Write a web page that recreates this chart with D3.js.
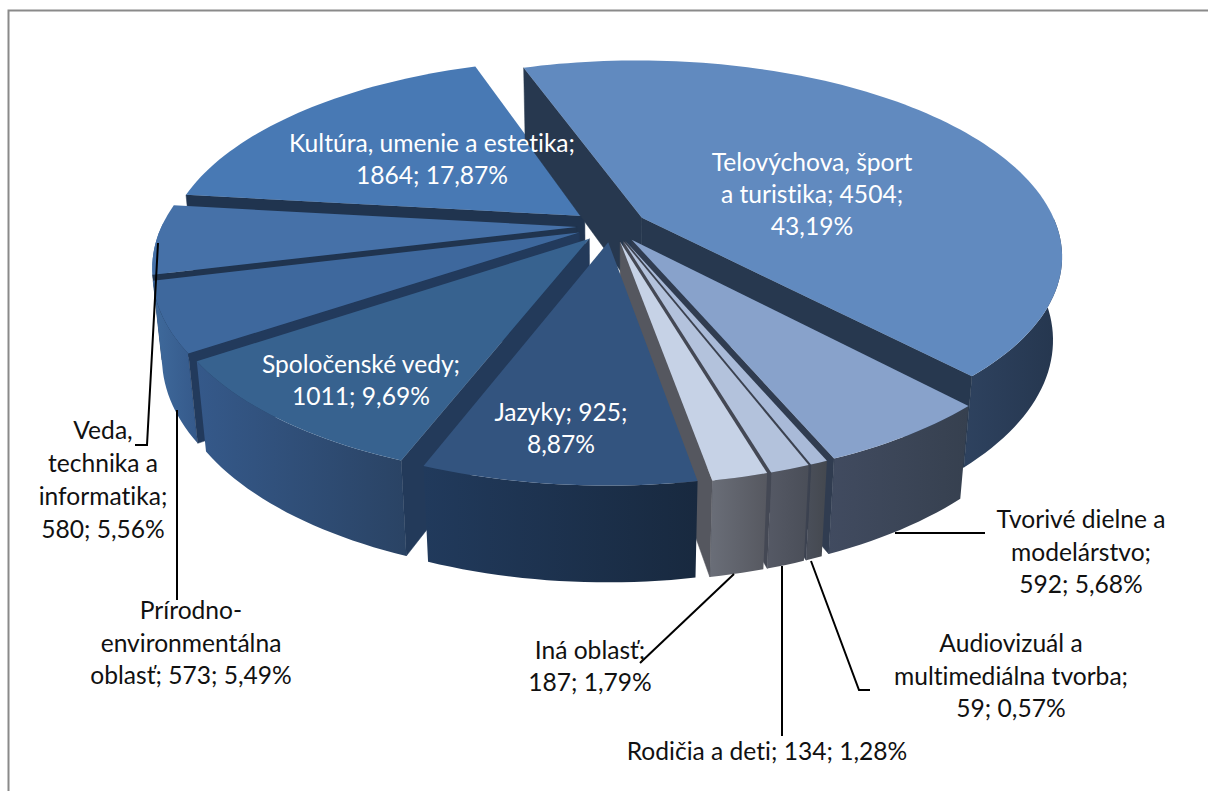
<!DOCTYPE html>
<html><head><meta charset="utf-8">
<script src="https://cdn.jsdelivr.net/npm/d3@7/dist/d3.min.js"></script>
<style>html,body{margin:0;background:#fff}svg{display:block}text{font-family:Lato,"Open Sans",sans-serif;font-size:24.6px;font-variant-ligatures:none}</style>
</head><body><svg id="c" width="1208" height="791"></svg>
<script>
const categories=["Telovýchova, šport a turistika","Tvorivé dielne a modelárstvo","Audiovizuál a multimediálna tvorba","Rodičia a deti","Iná oblasť","Jazyky","Spoločenské vedy","Prírodno-environmentálna oblasť","Veda, technika a informatika","Kultúra, umenie a estetika"];
const values=[4504,592,59,134,187,925,1011,573,580,1864];
const labelLines=[["Telovýchova, šport","a turistika; 4504;","43,19%"],["Tvorivé dielne a","modelárstvo;","592; 5,68%"],["Audiovizuál a","multimediálna tvorba;","59; 0,57%"],["Rodičia a deti; 134; 1,28%"],["Iná oblasť;","187; 1,79%"],["Jazyky; 925;","8,87%"],["Spoločenské vedy;","1011; 9,69%"],["Prírodno-","environmentálna","oblasť; 573; 5,49%"],["Veda,","technika a","informatika;","580; 5,56%"],["Kultúra, umenie a estetika;","1864; 17,87%"]];
const topColors=["#618abf","#88a2cb","#a9bad8","#b3c2dc","#c6d2e6","#33547f","#37628f","#3e689d","#4671a8","#4879b4"];
const wallLeft=["#2e425f","#414b60","#4a4f5a","#555965","#6a6e78","#213a5c","#35598a","#3f6a9c","#3d689c","#2f4f78"];
const wallRight=["#25364e","#36404f","#44484f","#4a4e58","#565860","#18293f","#2a4364","#35598a","#3d689c","#2f4f78"];
const faceColors=["#27384f","#303c50","#3c4250","#444854","#55575f","#2a4a70","#233a5a","#223a5c","#20344f","#20344f"];
const labelPos=[[812,163],[1081,520],[1011,644],[767,752],[590,651],[561,413],[361,365],[191,611],[103,431],[432,144]];
const lineGap=[32,32.5,32.5,32,32,32,32,32.5,33,32];
const labelFill=["#fff","#111","#111","#111","#111","#fff","#fff","#111","#111","#fff"];
const leaders=[[[158,243],[147,445],[135,445]],[[177,410],[177,600]],[[734,574],[640,663]],[[782,566],[782,736]],[[811,561],[859,690],[870,690]],[[895,533],[985,533]]];

const cx=612,cy=226,F=415,A=190,S=0.19,H=84,KZ=0.02,EX=0.085;
const deg=Math.PI/180;
const svg=d3.select("#c"), defs=svg.append("defs");
svg.append("path").attr("d","M8.5,791V10.5H1208").attr("fill","none").attr("stroke","#8a8a8a").attr("stroke-width",2);
const pie=d3.pie().sort(null).startAngle(-19*deg).endAngle(341*deg);
const arcs=pie(values).map((d,i)=>({...d,i,mid:(d.startAngle+d.endAngle)/2}));
// Excel's 3D view squeezes the front quadrants slightly
function warp(a){const q=a/deg;
  if(q>170&&q<270) return a-1.2*deg*Math.sin((q-170)/100*Math.PI);
  if(q>90&&q<170) return a+0.6*deg*Math.sin((q-90)/80*Math.PI);
  return a;}
function proj(d,a0,r,z){
  const a=warp(a0);
  const X=EX*Math.sin(d.mid)+r*Math.sin(a), V=-EX*Math.cos(d.mid)-r*Math.cos(a);
  const w=1-S*V+KZ*z;
  return [cx+F*X/w, cy+A*V/w+H*z/w];
}
const line=d3.line();
const order=arcs.slice().sort((p,q)=>(-Math.cos(p.mid))-(-Math.cos(q.mid)));
const angles=d=>{const n=Math.max(2,Math.ceil((d.endAngle-d.startAngle)/(1.5*deg)));return d3.range(n+1).map(k=>d.startAngle+(d.endAngle-d.startAngle)*k/n);};
order.forEach(d=>{
  const g=svg.append("g");
  const as=angles(d), front=as.filter(a=>-Math.cos(a)>-0.02);
  if(front.length>1){
    const pts=front.map(a=>proj(d,a,1,0)).concat(front.slice().reverse().map(a=>proj(d,a,1,1)));
    const ex=d3.extent(pts,p=>p[0]), id="w"+d.i;
    const lg=defs.append("linearGradient").attr("id",id).attr("gradientUnits","userSpaceOnUse").attr("x1",ex[0]).attr("x2",ex[1]).attr("y1",0).attr("y2",0);
    lg.append("stop").attr("offset",0).attr("stop-color",wallLeft[d.i]);
    lg.append("stop").attr("offset",1).attr("stop-color",wallRight[d.i]);
    g.append("path").attr("d",line(pts)+"Z").attr("fill",`url(#${id})`);
  }
  // radial faces that turn towards the viewer
  [[d.startAngle,-Math.sin(d.startAngle)],[d.endAngle,Math.sin(d.endAngle)]].filter(f=>f[1]>0).forEach(([a])=>{
    g.append("path").attr("d",line([proj(d,a,0,0),proj(d,a,1,0),proj(d,a,1,1),proj(d,a,0,1)])+"Z").attr("fill",faceColors[d.i]).attr("stroke",faceColors[d.i]).attr("stroke-width",.5);
  });
  g.append("path").attr("d",line([proj(d,0,0,0)].concat(as.map(a=>proj(d,a,1,0))))+"Z").attr("fill",topColors[d.i]);
});
leaders.forEach(p=>svg.append("path").attr("d",line(p)).attr("fill","none").attr("stroke","#000").attr("stroke-width",2));
labelLines.forEach((ls,i)=>{
  const t=svg.append("text").attr("text-anchor","middle").attr("fill",labelFill[i]);
  ls.forEach((s,k)=>t.append("tspan").attr("x",labelPos[i][0]).attr("y",labelPos[i][1]+k*lineGap[i]+8).text(s));
});
</script></body></html>
